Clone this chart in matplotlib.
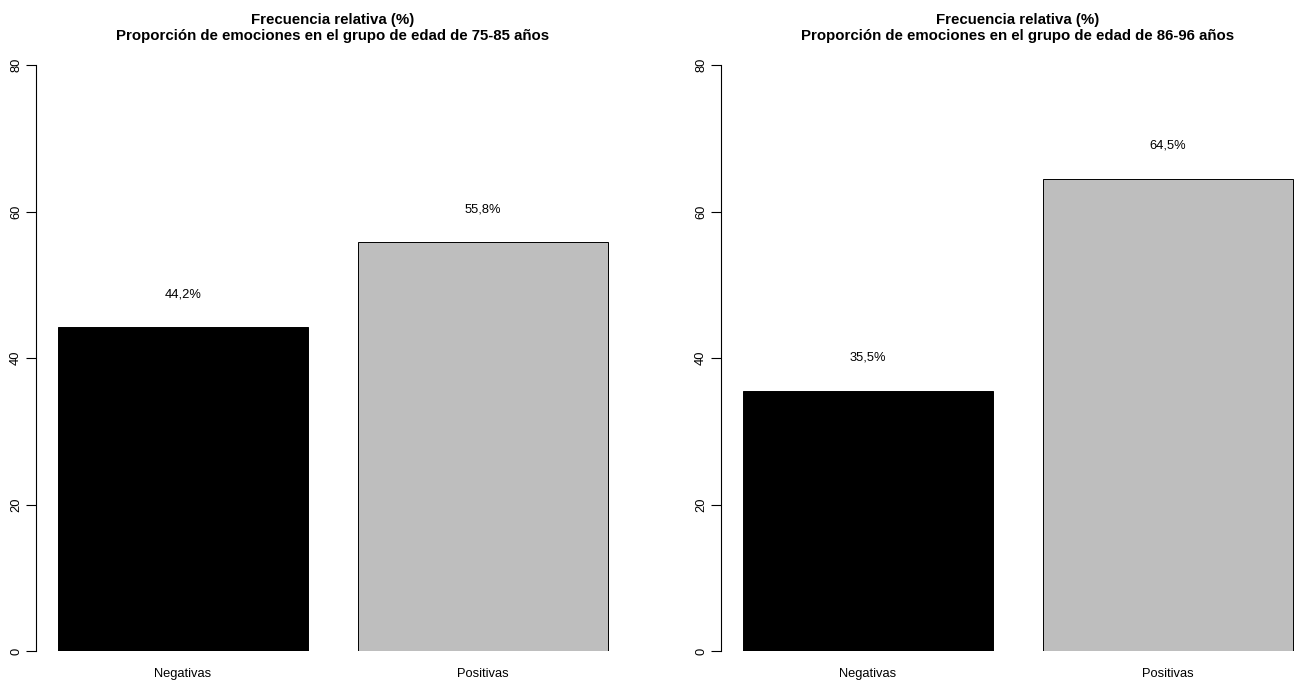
import matplotlib
matplotlib.use("Agg")
import matplotlib.pyplot as plt

plt.rcParams['font.family'] = ['Liberation Sans', 'DejaVu Sans']

# data
categorias = ["Negativas", "Positivas"]
grupo_75_85 = [44.2, 55.8]
grupo_86_96 = [35.5, 64.5]
etiquetas_75_85 = ["44,2%", "55,8%"]
etiquetas_86_96 = ["35,5%", "64,5%"]
titulos = ["Frecuencia relativa (%)\nProporción de emociones en el grupo de edad de 75-85 años",
           "Frecuencia relativa (%)\nProporción de emociones en el grupo de edad de 86-96 años"]
colores = ["black", "#bebebe"]

W, H = 1300, 682
fig = plt.figure(figsize=(W / 100, H / 100), dpi=100)


def px_axes(x0, x1, y_top, y_bot):
    return fig.add_axes([x0 / W, 1 - y_bot / H, (x1 - x0) / W, (y_bot - y_top) / H])


panels = [
    (px_axes(36, 630, 65, 651), grupo_75_85, etiquetas_75_85, titulos[0]),
    (px_axes(721, 1315, 65, 651), grupo_86_96, etiquetas_86_96, titulos[1]),
]

for ax, valores, etiquetas, titulo in panels:
    pos = [0.7, 1.9]
    ax.bar(pos, valores, width=1.0, color=colores, edgecolor="black", linewidth=0.7)
    for p, v, t in zip(pos, valores, etiquetas):
        ax.text(p, v + 4.5, t, ha="center", va="center", fontsize=9.3)
    ax.set_xlim(0.112, 2.488)
    ax.set_ylim(0, 80)
    for s in ["top", "right", "bottom"]:
        ax.spines[s].set_visible(False)
    ax.spines["left"].set_linewidth(0.8)
    ax.set_yticks([0, 20, 40, 60, 80])
    ax.tick_params(axis="y", length=7, width=0.8, pad=3, labelsize=9.3)
    for lab in ax.get_yticklabels():
        lab.set_rotation(90)
        lab.set_va("center")
    ax.set_xticks(pos)
    ax.set_xticklabels(categorias)
    ax.tick_params(axis="x", length=0, pad=12, labelsize=9.3)
    ax.set_title(titulo, fontsize=10.85, fontweight="bold", pad=18, linespacing=1.2)

fig.savefig("out.png", dpi=100)
